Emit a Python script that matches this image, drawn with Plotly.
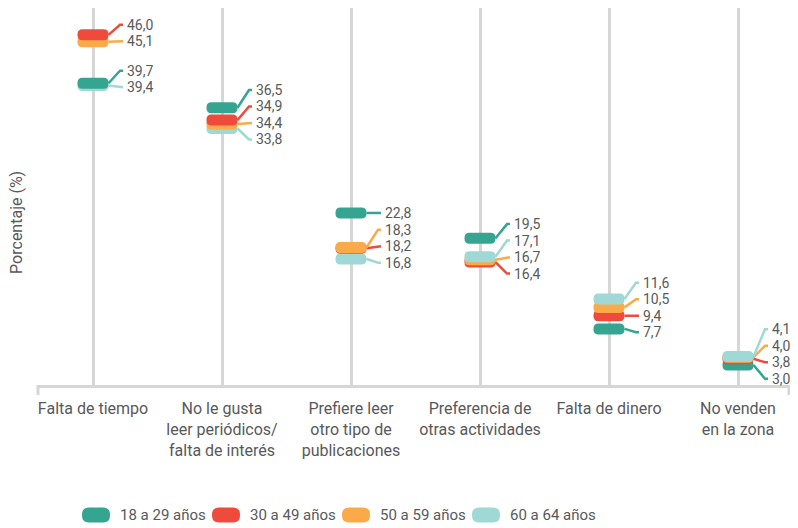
import plotly.graph_objects as go

categories = [
    "Falta de tiempo",
    "No le gusta<br>leer periódicos/<br>falta de interés",
    "Prefiere leer<br>otro tipo de<br>publicaciones",
    "Preferencia de<br>otras actividades",
    "Falta de dinero",
    "No venden<br>en la zona",
]

series_names = ["18 a 29 años", "30 a 49 años", "50 a 59 años", "60 a 64 años"]
age_18_29 = [39.7, 36.5, 22.8, 19.5, 7.7, 3.0]
age_30_49 = [46.0, 34.9, 18.2, 16.4, 9.4, 3.8]
age_50_59 = [45.1, 34.4, 18.3, 16.7, 10.5, 4.0]
age_60_64 = [39.4, 33.8, 16.8, 17.1, 11.6, 4.1]

series_values = [age_18_29, age_30_49, age_50_59, age_60_64]
colors = ["#35A592", "#EF4B3C", "#FBAA4A", "#9FD8D4"]

FONT = "Roboto, Liberation Sans, sans-serif"
TEXT_COLOR = "#58595b"
GRID_COLOR = "#d6d6d6"

FIG_W, FIG_H = 782, 520
MARGIN = dict(l=30, r=1, t=0, b=143)
PLOT_X0 = 8 + MARGIN["l"]          # page x of the plot's left edge (body margin 8)
PLOT_W = FIG_W - MARGIN["l"] - MARGIN["r"]
PX_PER_CAT = 129.0                 # pixel width of one category slot
FIRST_CAT_PX = 93                  # page x of the first category


def pill_path(w, h, r):
    x0, x1, y0, y1 = -w / 2, w / 2, -h / 2, h / 2
    return (
        f"M {x0 + r},{y0} L {x1 - r},{y0} Q {x1},{y0} {x1},{y0 + r} "
        f"L {x1},{y1 - r} Q {x1},{y1} {x1 - r},{y1} L {x0 + r},{y1} "
        f"Q {x0},{y1} {x0},{y1 - r} L {x0},{y0 + r} Q {x0},{y0} {x0 + r},{y0} Z"
    )


def spread_labels(vals, gap=2.15, lift=0.7):
    # simple cluster-based label de-overlap (in data units)
    order = sorted(range(len(vals)), key=lambda k: -vals[k])
    clusters = []
    for k in order:
        clusters.append([k])
        while len(clusters) > 1:
            a, b = clusters[-2], clusters[-1]
            ma = sum(vals[i] for i in a) / len(a)
            mb = sum(vals[i] for i in b) / len(b)
            bot_a = ma - (len(a) - 1) * gap / 2
            top_b = mb + (len(b) - 1) * gap / 2
            if bot_a - top_b < gap:
                clusters[-2:] = [a + b]
            else:
                break
    pos = {}
    for c in clusters:
        m = sum(vals[i] for i in c) / len(c)
        top = m + (len(c) - 1) * gap / 2 + (lift if len(c) > 1 else 0)
        for j, k in enumerate(c):
            pos[k] = top - j * gap
    return pos


fig = go.Figure()

# label positions per category
label_pos = {}
for ci in range(len(categories)):
    vals = [s[ci] for s in series_values]
    p = spread_labels(vals)
    for si in range(len(series_values)):
        label_pos[(si, ci)] = p[si]

x_start = 15.5 / PX_PER_CAT
x_bend = 27 / PX_PER_CAT
x_end = 30 / PX_PER_CAT
x_text = 32 / PX_PER_CAT

# leader lines
for si, (name, vals) in enumerate(zip(series_names, series_values)):
    xs, ys = [], []
    for ci, v in enumerate(vals):
        lp = label_pos[(si, ci)]
        xs += [ci + x_start, ci + x_bend, ci + x_end, None]
        ys += [v, lp, lp, None]
    fig.add_trace(go.Scatter(
        x=xs, y=ys, mode="lines",
        line=dict(color=colors[si], width=2.5),
        hoverinfo="skip", showlegend=False,
    ))

# invisible points for hover
for si, (name, vals) in enumerate(zip(series_names, series_values)):
    fig.add_trace(go.Scatter(
        x=list(range(len(categories))), y=vals, mode="markers",
        marker=dict(size=14, color=colors[si], opacity=0),
        name=name, showlegend=False,
        hovertemplate="%{y:.1f}%<extra>" + name + "</extra>",
    ))

shapes = []
annotations = []

# pills, higher values drawn on top
for ci in range(len(categories)):
    order = sorted(range(len(series_values)), key=lambda k: series_values[k][ci])
    for si in order:
        v = series_values[si][ci]
        shapes.append(dict(
            type="path", xref="x", yref="y",
            xsizemode="pixel", ysizemode="pixel",
            xanchor=ci, yanchor=v,
            path=pill_path(31, 11, 5),
            fillcolor=colors[si], line=dict(width=0),
        ))
        annotations.append(dict(
            x=ci + x_text, y=label_pos[(si, ci)], xref="x", yref="y",
            text=f"{v:.1f}".replace(".", ","),
            showarrow=False, xanchor="left", yanchor="middle",
            font=dict(family=FONT, size=14, color=TEXT_COLOR),
        ))

# end ticks of the x axis
for xp in [0, 1]:
    shapes.append(dict(
        type="line", xref="paper", yref="paper",
        ysizemode="pixel", yanchor=0,
        x0=xp, x1=xp, y0=0, y1=-10,
        line=dict(color=GRID_COLOR, width=3),
    ))

# custom legend
leg_px = [96, 226, 356, 486]
leg_y = -0.3448
for si, name in enumerate(series_names):
    lx = (leg_px[si] - PLOT_X0) / PLOT_W
    shapes.append(dict(
        type="path", xref="paper", yref="paper",
        xsizemode="pixel", ysizemode="pixel",
        xanchor=lx, yanchor=leg_y,
        path=pill_path(28, 15, 7),
        fillcolor=colors[si], line=dict(width=0),
    ))
    annotations.append(dict(
        x=lx, y=leg_y, xref="paper", yref="paper", xshift=22,
        text=name, showarrow=False, xanchor="left", yanchor="middle",
        font=dict(family=FONT, size=15, color=TEXT_COLOR),
    ))

# y axis title
annotations.append(dict(
    x=(17 - PLOT_X0) / PLOT_W, y=0.43, xref="paper", yref="paper",
    text="Porcentaje (%)", textangle=-90, showarrow=False,
    xanchor="center", yanchor="middle",
    font=dict(family=FONT, size=16, color=TEXT_COLOR),
))

fig.update_layout(
    width=FIG_W, height=FIG_H,
    margin=MARGIN,
    paper_bgcolor="white", plot_bgcolor="white",
    font=dict(family=FONT, size=16, color=TEXT_COLOR),
    showlegend=False,
    shapes=shapes,
    annotations=annotations,
)

fig.update_xaxes(
    range=[(PLOT_X0 - FIRST_CAT_PX) / PX_PER_CAT,
           (PLOT_X0 + PLOT_W - FIRST_CAT_PX) / PX_PER_CAT],
    tickvals=list(range(len(categories))),
    ticktext=categories,
    showgrid=True, gridcolor=GRID_COLOR, gridwidth=3,
    showline=True, linecolor=GRID_COLOR, linewidth=3,
    zeroline=False, ticks="", ticklabelstandoff=7,
    tickfont=dict(family=FONT, size=16, color=TEXT_COLOR),
    fixedrange=True,
)

fig.update_yaxes(
    range=[0.39, 49.5],
    visible=False, fixedrange=True,
)

fig.write_html("out.html")
